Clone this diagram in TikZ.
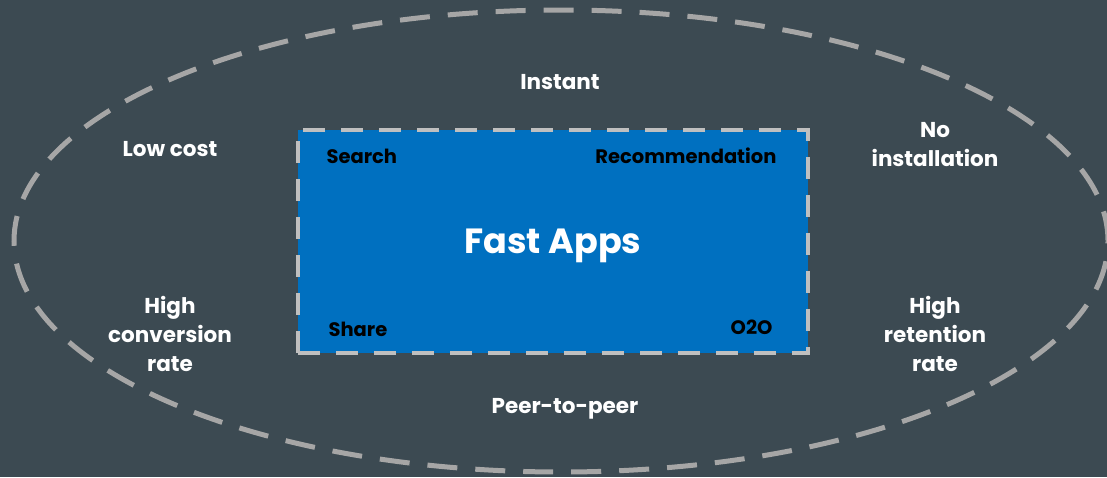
\documentclass[tikz,border=0pt]{standalone}
\usepackage{fontspec}
\setmainfont{Poppins}
\usetikzlibrary{positioning}
\definecolor{slate-bg}{HTML}{3C4A52}
\definecolor{app-blue}{HTML}{0070C0}
\definecolor{ring-gray}{HTML}{A6A6A6}
\definecolor{box-gray}{HTML}{BFBFBF}

\begin{document}
\begin{tikzpicture}[
    x=1pt, y=-1pt,
    ring/.style={draw=ring-gray, line width=5pt, dash pattern=on 30pt off 18pt},
    appbox/.style={rectangle, draw=box-gray, line width=4pt, dash pattern=on 22pt off 16pt, fill=app-blue, minimum width=510pt, minimum height=223pt, inner sep=0pt},
    outer/.style={text=white, font=\fontsize{21.5}{29}\selectfont\bfseries, align=center},
    inner/.style={text=black, font=\fontsize{19.5}{22}\selectfont\bfseries},
]

% Background
\fill[slate-bg] (0,0) rectangle (1107,477);
\useasboundingbox (0,0) rectangle (1107,477);

% Ring
\draw[ring] (561,241) ellipse [x radius=547pt, y radius=231pt];

% Fast Apps box
\node[appbox] (app) at (553,241.5) {};
\node[text=white, font=\fontsize{35}{38}\selectfont\bfseries] (title) at (553,246) {Fast Apps};

% Box labels
\node[inner, anchor=west] (search) at ([xshift=27pt, yshift=-28pt]app.north west) {Search};
\node[inner, anchor=east] (recommend) at ([xshift=-30pt, yshift=-28pt]app.north east) {Recommendation};
\node[inner, anchor=west] (share) at ([xshift=29pt, yshift=26pt]app.south west) {Share};
\node[inner, anchor=east] (o2o) at ([xshift=-34pt, yshift=28pt]app.south east) {O2O};

% Ring labels
\node[outer] (instant) at (560,82) {Instant};
\node[outer] (lowcost) at (170,149) {Low cost};
\node[outer] (noinstall) at (935,145) {No\\installation};
\node[outer] (conversion) at (170,334) {High\\conversion\\rate};
\node[outer] (retention) at (935,334) {High\\retention\\rate};
\node[outer] (p2p) at (565,409) {Peer-to-peer};

\end{tikzpicture}
\end{document}
